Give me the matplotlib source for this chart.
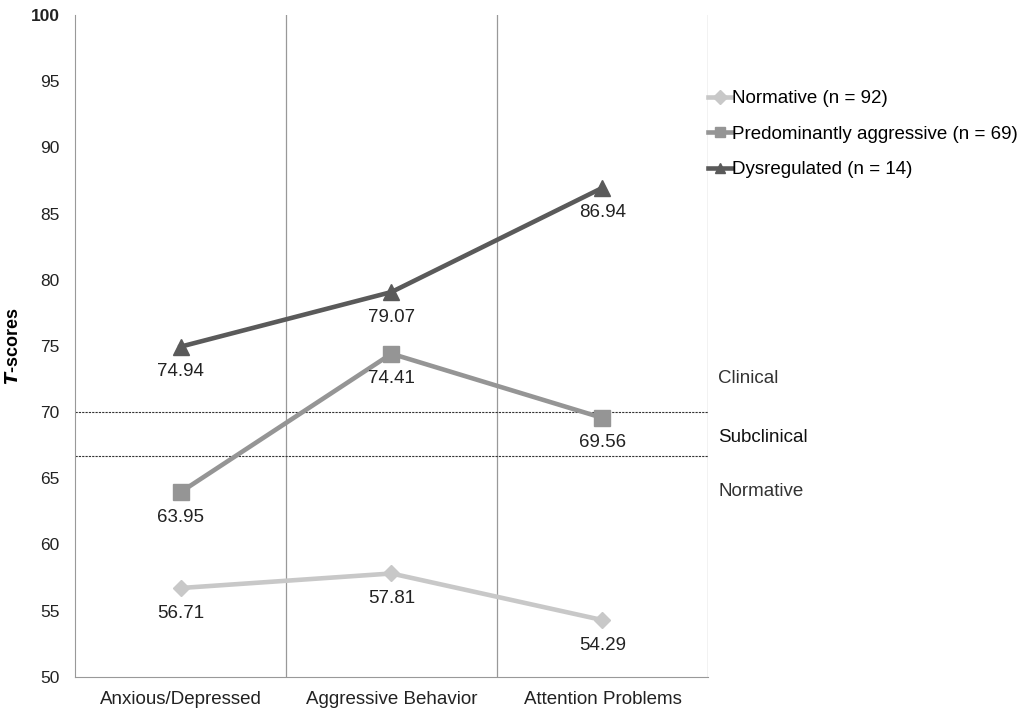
import matplotlib.pyplot as plt

plt.rcParams['font.family'] = ['Liberation Sans', 'DejaVu Sans']

categories = ["Anxious/Depressed", "Aggressive Behavior", "Attention Problems"]
normative = [56.71, 57.81, 54.29]
aggressive = [63.95, 74.41, 69.56]
dysregulated = [74.94, 79.07, 86.94]
series_names = ["Normative (n = 92)", "Predominantly aggressive (n = 69)", "Dysregulated (n = 14)"]
cutoffs = [70.0, 66.7]
zone_labels = ["Clinical", "Subclinical", "Normative"]
zone_y = [72.5, 68.1, 64.0]
yticks = [50, 55, 60, 65, 70, 75, 80, 85, 90, 95, 100]

fig = plt.figure(figsize=(10.35, 7.11), dpi=100)
ax = fig.add_axes([0.0725, 0.048, 0.6115, 0.931])

x = list(range(len(categories)))

# category separators
for b in [0.5, 1.5, 2.5]:
    ax.axvline(b, color='#999999', lw=0.9, zorder=1)

# cutoff lines
for c in cutoffs:
    ax.axhline(c, color='#333333', lw=0.8, ls=(0, (2, 1)), zorder=1)

styles = [
    (normative, '#c8c8c8', 'D', 8),
    (aggressive, '#959595', 's', 12),
    (dysregulated, '#5a5a5a', '^', 11),
]
for (vals, col, mk, ms), name in zip(styles, series_names):
    ax.plot(x, vals, color=col, lw=3.3, marker=mk, markersize=ms, label=name, zorder=3)
    for xi, v in zip(x, vals):
        ax.annotate(f"{v:.2f}", (xi, v), xytext=(0, -18), textcoords='offset points',
                    ha='center', va='center', fontsize=13.5, color='#222222')

ax.set_xlim(-0.5, 2.5)
ax.set_ylim(50, 100)
ax.set_yticks(yticks)
ax.set_yticklabels([str(t) for t in yticks], fontsize=12.5, color='#222222')
ax.get_yticklabels()[-1].set_fontweight('bold')
ax.set_xticks(x)
ax.set_xticklabels(categories, fontsize=13.5, color='#222222')
ax.tick_params(length=0)
ax.tick_params(axis='x', pad=10)
ax.tick_params(axis='y', pad=11)

for s in ['top', 'right']:
    ax.spines[s].set_visible(False)
ax.spines['left'].set_color('#999999')
ax.spines['bottom'].set_color('#999999')

ax.set_ylabel(r"$\mathbfit{T}$-scores", fontsize=13, fontweight='bold', labelpad=6)

for lab, yv in zip(zone_labels, zone_y):
    ax.text(2.55, yv, lab, fontsize=13.5, color='#111111' if lab == "Subclinical" else '#333333',
            va='center', ha='left')

leg = ax.legend(loc='upper left', bbox_to_anchor=(0.684, 0.873), bbox_transform=fig.transFigure,
                frameon=False, fontsize=13.5, handlelength=1.3, handletextpad=0.0,
                labelspacing=0.98, borderaxespad=0, borderpad=0)
for line in leg.get_lines():
    line.set_markersize(7)

fig.savefig("out.png", dpi=100)
